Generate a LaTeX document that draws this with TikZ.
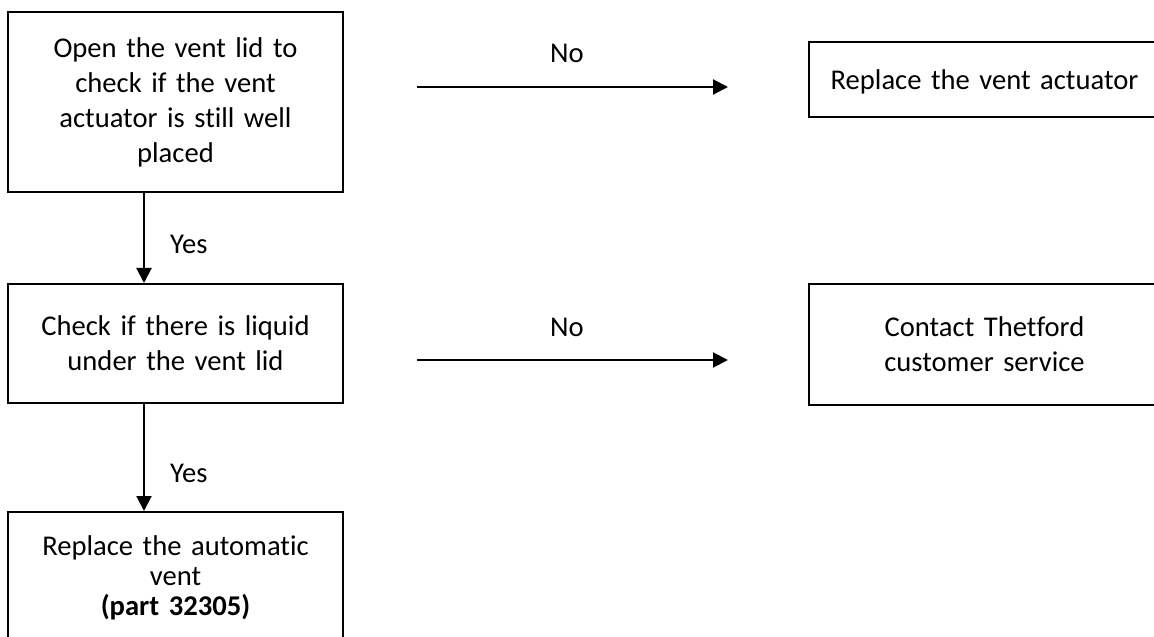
\documentclass[tikz,border=0pt]{standalone}
\usepackage{fontspec}
\setmainfont{Carlito}[Ligatures=NoCommon]
\usetikzlibrary{arrows.meta}
\begin{document}
\begin{tikzpicture}[x=1bp,y=-1bp,
  box/.style={draw, line width=2bp, inner sep=0pt, align=center, font=\fontsize{28.6bp}{35bp}\selectfont},
  lbl/.style={inner sep=0pt, font=\fontsize{28.6bp}{35bp}\selectfont},
  conn/.style={line width=2bp, -{Triangle[length=15bp,width=15bp]}}]
\clip (0,0) rectangle (1154,637);
\node[box, minimum width=335bp, minimum height=180bp, text width=320bp] (b1) at (175.5,102) {Open the vent lid to\\check if the vent\\actuator is still well\\placed};
\node[box, minimum width=335bp, minimum height=119bp, text width=320bp] (b2) at (175.5,343.5) {Check if there is liquid\\under the vent lid};
\node[box, minimum width=335bp, minimum height=132bp, text width=320bp, font=\fontsize{28.6bp}{30bp}\selectfont] (b3) at (175.5,578) {Replace the automatic\\vent\\\textbf{(part 32305)}};
\node[box, minimum width=351bp, minimum height=75bp, text width=340bp, text height=28bp, text depth=7bp] (r1) at (984.5,79.5) {Replace the vent actuator};
\node[box, minimum width=351bp, minimum height=121bp, text width=340bp] (r2) at (984.5,344.5) {Contact Thetford\\customer service};
\coordinate (ax) at (144,0);
\draw[conn] (b1.south -| ax) -- (b2.north -| ax);
\draw[conn] (b2.south -| ax) -- (b3.north -| ax);
\node[lbl, anchor=base west] (y1) at (170,254) {Yes};
\node[lbl, anchor=base west] (y2) at (170,482) {Yes};
\coordinate (a1s) at (417,87);
\coordinate (a1e) at (728,87);
\coordinate (a2s) at (417,360);
\coordinate (a2e) at (728,360);
\draw[conn] (a1s) -- (a1e);
\draw[conn] (a2s) -- (a2e);
\node[lbl, anchor=base] (n1) at (567,63) {No};
\node[lbl, anchor=base] (n2) at (567,337) {No};
\end{tikzpicture}
\end{document}
